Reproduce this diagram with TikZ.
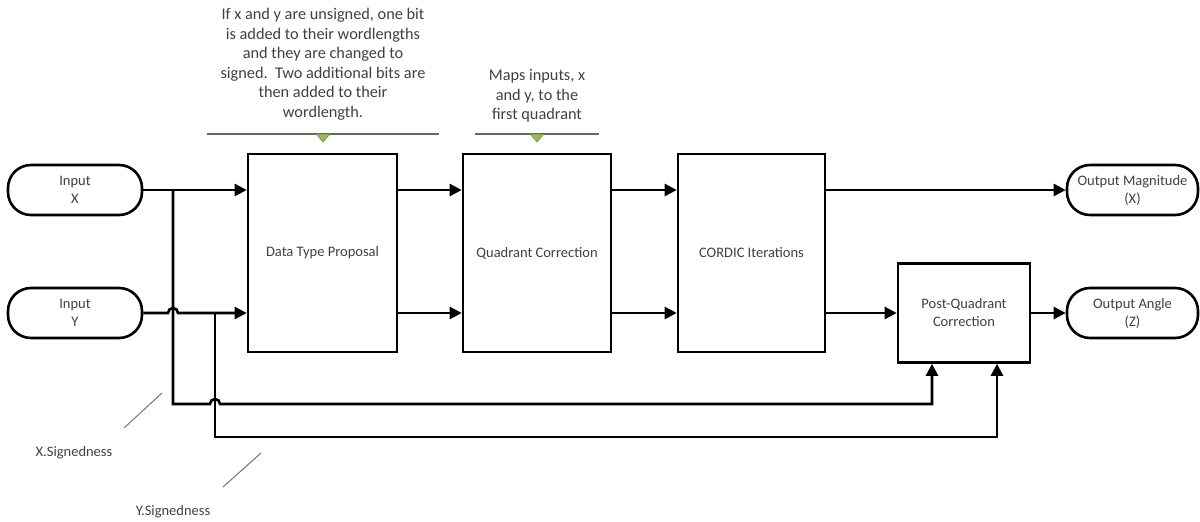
\documentclass[tikz,border=0pt]{standalone}
\usepackage{fontspec}
\setmainfont{Carlito}
\usetikzlibrary{arrows.meta,calc}
\definecolor{txt}{HTML}{404040}
\definecolor{notegreen}{HTML}{9BBB59}
\definecolor{notegreenline}{HTML}{71893F}
\tikzset{
  term/.style={draw, line width=2.6pt, rounded corners=23pt, minimum width=134pt, minimum height=50pt, align=center, text=txt, font=\fontsize{14.5}{18}\selectfont, inner sep=0pt},
  blockbox/.style={draw, line width=2.6pt, align=center, text=txt, font=\fontsize{14.5}{18}\selectfont, inner sep=0pt},
  conn/.style={line width=2.6pt, -{Triangle[length=12pt,width=12pt]}},
  notetext/.style={align=center, text=txt, font=\fontsize{16.3}{19.5}\selectfont, inner sep=0pt},
  noteline/.style={draw=black!60, line width=1.4pt},
  notetri/.style={fill=notegreen, draw=notegreenline, line width=0.5pt},
  sigline/.style={draw=black!55, line width=1pt},
  sigtext/.style={text=txt, font=\fontsize{14.5}{18}\selectfont, inner sep=0pt}
}
\begin{document}
\begin{tikzpicture}[x=1pt,y=-1pt]
\useasboundingbox (0,0) rectangle (1200,522);
% terminators
\node[term] (inX) at (75,190) {Input\\X};
\node[term] (inY) at (75,313) {Input\\Y};
\node[term, minimum width=131pt] (outM) at (1132.5,190) {Output Magnitude\\(X)};
\node[term, minimum width=131pt] (outA) at (1132.5,313) {Output Angle\\(Z)};
% blocks
\node[blockbox, minimum width=149pt, minimum height=198pt] (dtp) at (322.5,253) {Data Type Proposal};
\node[blockbox, minimum width=148pt, minimum height=198pt] (qc) at (537,253) {Quadrant Correction};
\node[blockbox, minimum width=147pt, minimum height=198pt] (cordic) at (751.5,253) {CORDIC Iterations};
\node[blockbox, minimum width=132pt, minimum height=99pt] (pq) at (964,313) {Post-Quadrant\\Correction};
% notes
\node[notetext] (n1) at (323,64) {If x and y are unsigned, one bit\\is added to their wordlengths\\and they are changed to\\signed.\ \ Two additional bits are\\then added to their\\wordlength.};
\node[notetext] (n2) at (537,96) {Maps inputs, x\\and y, to the\\first quadrant};
\coordinate (n1l) at (207,134);
\coordinate (n1r) at (439,134);
\coordinate (n2l) at (475,134);
\coordinate (n2r) at (599,134);
\draw[noteline] (n1l) -- (n1r);
\draw[noteline] (n2l) -- (n2r);
\draw[notetri] (316,134) -- (330,134) -- (323,142) -- cycle;
\draw[notetri] (530,134) -- (544,134) -- (537,142) -- cycle;
% signedness labels
\node[sigtext] (xs) at (74,453) {X.Signedness};
\node[sigtext] (ys) at (173,512) {Y.Signedness};
\coordinate (xs1) at (124,428);
\coordinate (xs2) at (162,393);
\coordinate (ys1) at (223,487);
\coordinate (ys2) at (261,453);
\draw[sigline] (xs1) -- (xs2);
\draw[sigline] (ys1) -- (ys2);
% branch points
\coordinate (bx) at (173,190);
\coordinate (bxd) at (173,404);
\coordinate (by) at (215,313);
\coordinate (byd) at (215,437);
\coordinate (px) at (932,404);
\coordinate (py) at (997,437);
% top row
\draw[conn] (inX.east) -- (inX.east -| dtp.west);
\draw[conn] (dtp.east |- inX.east) -- (qc.west |- inX.east);
\draw[conn] (qc.east |- inX.east) -- (cordic.west |- inX.east);
\draw[conn] (cordic.east |- outM.west) -- (outM.west);
% bottom row (hops over the X branch)
\draw[conn] (inY.east) -- ($(bx |- inY.east)+(-5,0)$) arc (180:360:5) -- (inY.east -| dtp.west);
\draw[conn] (dtp.east |- inY.east) -- (qc.west |- inY.east);
\draw[conn] (qc.east |- inY.east) -- (cordic.west |- inY.east);
\draw[conn] (cordic.east |- pq.west) -- (pq.west);
\draw[conn] (pq.east) -- (outA.west);
% signedness branches
\draw[conn] (bx) -- (bxd) -- ($(by |- bxd)+(-5,0)$) arc (180:360:5) -- (px) -- (px |- pq.south);
\draw[conn] (by) -- (byd) -- (py) -- (py |- pq.south);
\end{tikzpicture}
\end{document}
